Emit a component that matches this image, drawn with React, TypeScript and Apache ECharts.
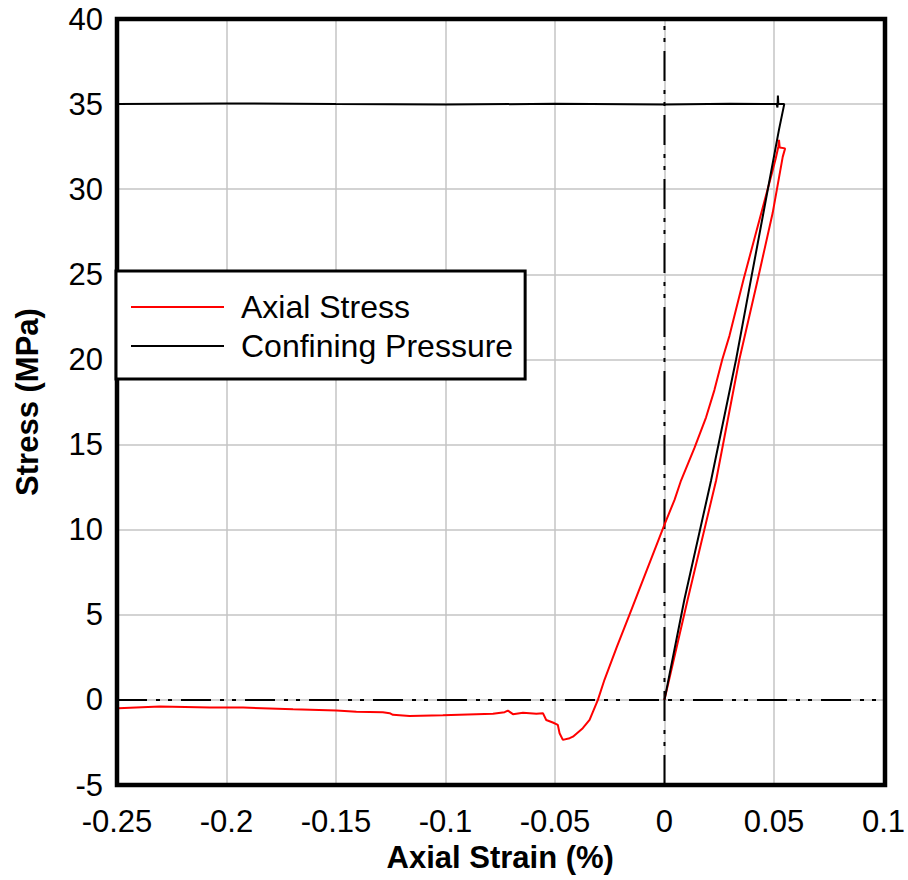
import React, { useEffect, useRef } from "react";
import * as echarts from "echarts";

// Axial stress curve (strain %, stress MPa), in drawing order
const axialStrain = [
  0, 0.0106, 0.0236, 0.0342, 0.0426, 0.0494, 0.054, 0.0551, 0.0526, 0.0523, 0.052, 0.0508,
  0.0494, 0.0361, 0.0297, 0.0264, 0.0228, 0.019, 0.0137, 0.0076, 0.0046, 0, -0.0098, -0.016,
  -0.0217, -0.0274, -0.0304, -0.0342, -0.0373, -0.0418, -0.0433, -0.0464, -0.0479, -0.0487,
  -0.051, -0.054, -0.0555, -0.0585, -0.0646, -0.0692, -0.0715, -0.073, -0.0783, -0.086,
  -0.1012, -0.1164, -0.124, -0.1255, -0.1286, -0.1407, -0.1498, -0.1696, -0.1924, -0.2076,
  -0.2304, -0.2494,
];
const axialStress = [
  0, 5.9, 12.9, 20.0, 24.7, 28.6, 31.9, 32.4, 32.45, 32.9, 32.5, 31.8,
  31.1, 24.7, 21.4, 20.0, 18.2, 16.6, 14.8, 12.9, 11.75, 10.3, 7.05, 5.0,
  3.13, 1.18, 0, -1.18, -1.66, -2.16, -2.25, -2.35, -1.96, -1.47,
  -1.33, -1.18, -0.78, -0.82, -0.76, -0.84, -0.63, -0.72, -0.82, -0.84,
  -0.9, -0.94, -0.88, -0.78, -0.72, -0.7, -0.63, -0.55, -0.45, -0.45,
  -0.39, -0.49,
];

// Confining pressure curve (strain %, pressure MPa)
const confiningStrain = [
  0, 0.0091, 0.0213, 0.0327, 0.0395, 0.0523, 0.0547, 0.052, 0.0518, 0.0516, 0.0512,
  0.03, 0, -0.05, -0.1, -0.15, -0.2, -0.25,
];
const confiningPressure = [
  0, 5.9, 12.9, 20.0, 24.7, 33.5, 35.0, 35.0, 35.5, 34.8, 35.0,
  35.02, 34.98, 35.02, 34.97, 35.0, 35.04, 35.0,
];

const xRange = [-0.25, 0.1];
const yRange = [-5, 40];
const xStep = 0.05;
const yStep = 5;

const seriesNames = ["Axial Stress", "Confining Pressure"];

const FONT = "'Liberation Sans', Arial, sans-serif";
const DASH_DOT = [30, 9, 4, 8, 4, 9];

const GRID = { left: 117, right: 23, top: 19, bottom: 95 };
const W = 908;
const H = 880;

export default function App() {
  const ref = useRef<HTMLDivElement>(null);

  useEffect(() => {
    if (!ref.current) return;
    const chart = echarts.init(ref.current, undefined, { renderer: "svg" });
    const zip = (xs: number[], ys: number[]) => xs.map((x, i) => [x, ys[i]]);

    chart.setOption({
      animation: false,
      backgroundColor: "#ffffff",
      grid: {
        left: GRID.left,
        right: GRID.right,
        top: GRID.top,
        bottom: GRID.bottom,
        show: false,
      },
      graphic: [
        {
          type: "rect",
          z: 3,
          silent: true,
          shape: {
            x: GRID.left,
            y: GRID.top,
            width: W - GRID.left - GRID.right,
            height: H - GRID.top - GRID.bottom,
          },
          style: { fill: "none", stroke: "#000", lineWidth: 4.5 },
        },
      ],
      legend: {
        data: seriesNames,
        orient: "vertical",
        left: 116,
        top: 271,
        z: 10,
        backgroundColor: "#fff",
        borderColor: "#000",
        borderWidth: 3,
        padding: [20, 12, 17, 15],
        itemGap: 7,
        itemWidth: 93,
        itemHeight: 2,
        icon: "rect",
        selectedMode: false,
        textStyle: {
          fontFamily: FONT,
          fontSize: 32,
          color: "#000",
          padding: [0, 0, 0, 12],
        },
      },
      xAxis: {
        type: "value",
        min: xRange[0],
        max: xRange[1],
        interval: xStep,
        name: "Axial Strain (%)",
        nameLocation: "middle",
        nameGap: 49,
        nameTextStyle: { fontFamily: FONT, fontSize: 31, fontWeight: "bold", color: "#000" },
        axisLine: { show: false, onZero: false },
        axisTick: { show: false },
        axisLabel: {
          margin: 21,
          fontFamily: FONT,
          fontSize: 31,
          color: "#000",
          formatter: (v: number) => String(Math.round(v * 100) / 100),
        },
        splitLine: { show: true, lineStyle: { color: "#c4c4c4", width: 1.5 } },
      },
      yAxis: {
        type: "value",
        min: yRange[0],
        max: yRange[1],
        interval: yStep,
        name: "Stress (MPa)",
        nameLocation: "middle",
        nameGap: 74,
        nameTextStyle: { fontFamily: FONT, fontSize: 31, fontWeight: "bold", color: "#000" },
        axisLine: { show: false, onZero: false },
        axisTick: { show: false },
        axisLabel: { margin: 14, fontFamily: FONT, fontSize: 31, color: "#000" },
        splitLine: { show: true, lineStyle: { color: "#c4c4c4", width: 1.5 } },
      },
      series: [
        {
          name: "zero-x",
          type: "line",
          data: [[xRange[0], 0], [xRange[1], 0]],
          symbol: "none",
          silent: true,
          lineStyle: { color: "#000", width: 2, type: DASH_DOT },
          z: 1,
        },
        {
          name: "zero-y",
          type: "line",
          data: [[0, yRange[0]], [0, yRange[1]]],
          symbol: "none",
          silent: true,
          lineStyle: { color: "#000", width: 2, type: DASH_DOT },
          z: 1,
        },
        {
          name: seriesNames[0],
          type: "line",
          data: zip(axialStrain, axialStress),
          symbol: "none",
          showSymbol: false,
          color: "#ff0000",
          lineStyle: { color: "#ff0000", width: 2 },
          z: 2,
        },
        {
          name: seriesNames[1],
          type: "line",
          data: zip(confiningStrain, confiningPressure),
          symbol: "none",
          showSymbol: false,
          color: "#000000",
          lineStyle: { color: "#000000", width: 2 },
          z: 2,
        },
      ],
    });

    return () => chart.dispose();
  }, []);

  return <div ref={ref} style={{ width: W, height: H, position: "absolute", left: 0, top: 0 }} />;
}
